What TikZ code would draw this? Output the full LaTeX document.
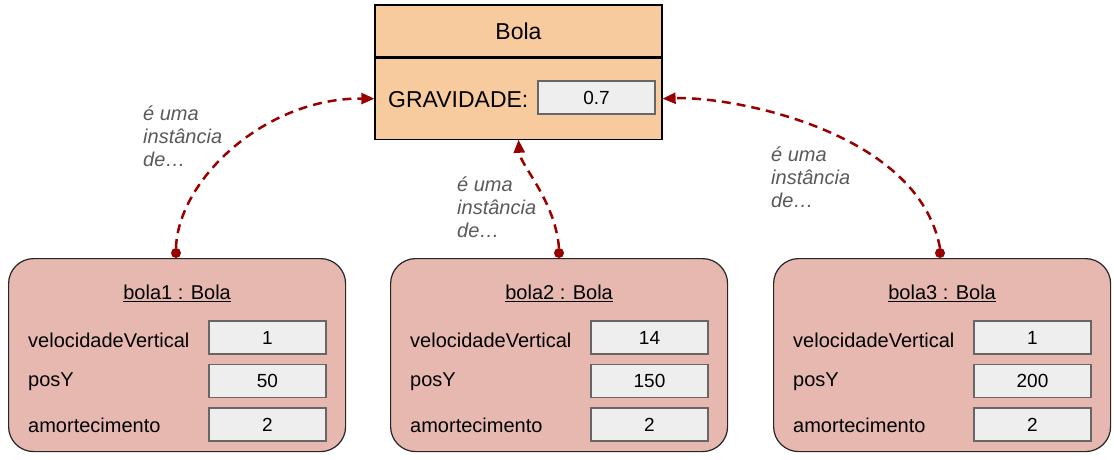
\documentclass[tikz,border=0pt]{standalone}
\usepackage{fontspec}
\setmainfont{Liberation Sans}
\usetikzlibrary{arrows.meta}
\definecolor{clsfill}{HTML}{F8CB9E}
\definecolor{objfill}{HTML}{E6B8AF}
\definecolor{valfill}{HTML}{EEEEEE}
\definecolor{valline}{HTML}{666666}
\definecolor{arrowred}{HTML}{990000}
\definecolor{labgray}{HTML}{595959}
\tikzset{
  clsbox/.style={draw=black, fill=clsfill, line width=1.2pt, inner sep=0pt},
  objbox/.style={draw=black!85, fill=objfill, line width=1.2pt, rounded corners=25pt,
    minimum width=337pt, minimum height=193pt, inner sep=0pt},
  valbox/.style={draw=valline, fill=valfill, line width=1.2pt, minimum width=117pt,
    minimum height=33pt, inner sep=0pt, font=\fontsize{19}{21}\selectfont},
  attr/.style={anchor=west, inner sep=0pt, font=\fontsize{20}{23}\selectfont},
  ttl/.style={inner sep=0pt, font=\fontsize{20}{23}\selectfont},
  inst/.style={-{Triangle[length=13pt,width=11pt]}, arrowred, line width=2.5pt,
    dash pattern=on 9pt off 6pt},
  dotend/.style={fill=arrowred, draw=none},
  lab/.style={anchor=north west, align=left, inner sep=0pt, text=labgray,
    font=\fontsize{20}{23}\selectfont\itshape}
}
\begin{document}
\begin{tikzpicture}[x=1pt,y=-1pt]
\useasboundingbox (0,0) rectangle (1114,459);
% class
\node[clsbox, minimum width=287pt, minimum height=52pt, font=\fontsize{23}{26}\selectfont] (head) at (518.5,31) {Bola};
\node[clsbox, minimum width=287pt, minimum height=81pt, anchor=north] (body) at (head.south) {};
\node[attr, font=\fontsize{23}{26}\selectfont] (grav) at (388,100) {GRAVIDADE:};
\node[valbox] (gval) at (596.5,97.5) {0.7};
% objects
\foreach \i/\x/\v/\p in {1/8/1/50, 2/390/14/150, 3/773/1/200}{
  \node[objbox, anchor=north west] (o\i) at (\x,258) {};
  \node[ttl] (t\i) at (o\i.north |- 0,293) {\underline{bola\i{} : Bola}};
  \node[attr] (a\i) at (\x+20,340) {velocidadeVertical};
  \node[attr] (b\i) at (\x+20,382) {posY};
  \node[attr] (c\i) at (\x+20,425) {amortecimento};
  \node[valbox] (va\i) at (\x+259.5,337.5) {\v};
  \node[valbox] (vb\i) at (\x+259.5,381) {\p};
  \node[valbox] (vc\i) at (\x+259.5,424.5) {2};
}
% connectors
\coordinate (s1) at (176,248);
\coordinate (s2) at (559,248);
\coordinate (s3) at (940,248);
\draw[inst] (s1) .. controls (178,180) and (265,97.5) .. (body.west);
\draw[inst] (s2) .. controls (555,200) and (520,165) .. (body.south);
\draw[inst] (s3) .. controls (918,130) and (730,96) .. (body.east);
\foreach \k in {1,2,3}{ \fill[dotend] (s\k) ++(0,5) circle (5pt); }
% labels
\node[lab] (l1) at (143,106) {é uma\\instância\\de…};
\node[lab] (l2) at (457,177) {é uma\\instância\\de…};
\node[lab] (l3) at (771,147) {é uma\\instância\\de…};
\end{tikzpicture}
\end{document}
